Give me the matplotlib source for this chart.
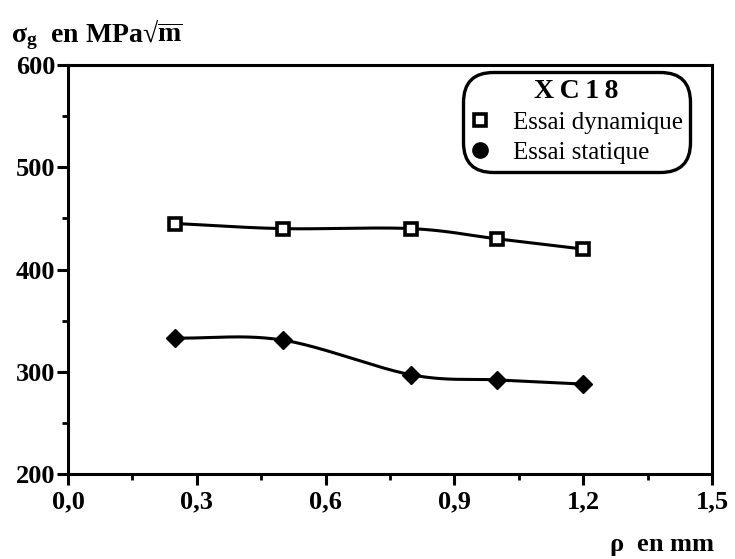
import matplotlib
matplotlib.use("Agg")
import matplotlib.pyplot as plt
import numpy as np
from matplotlib.lines import Line2D
from matplotlib.ticker import MultipleLocator, FuncFormatter

plt.rcParams['font.family'] = ['Liberation Serif', 'DejaVu Serif']
plt.rcParams['mathtext.fontset'] = 'custom'
plt.rcParams['mathtext.rm'] = 'Liberation Serif'
plt.rcParams['mathtext.it'] = 'Liberation Serif:bold'
plt.rcParams['mathtext.bf'] = 'Liberation Serif:bold'

#--- Data ---#
rho = [0.25, 0.5, 0.8, 1.0, 1.2]
sig_dyn = [445, 440, 440, 430, 420]
sig_stat = [333, 331, 297, 292, 288]

# Smooth curve through the points (Catmull-Rom), like the original plotting software
def smooth(x, y, n=40):
    x = np.asarray(x, float)
    y = np.asarray(y, float)
    px = np.concatenate([[2*x[0]-x[1]], x, [2*x[-1]-x[-2]]])
    py = np.concatenate([[2*y[0]-y[1]], y, [2*y[-1]-y[-2]]])
    t = np.linspace(0, 1, n)
    xs, ys = [], []
    for i in range(1, len(px)-2):
        for p, out in ((px, xs), (py, ys)):
            p0, p1, p2, p3 = p[i-1], p[i], p[i+1], p[i+2]
            out.extend(0.5*((2*p1) + (-p0+p2)*t + (2*p0-5*p1+4*p2-p3)*t**2
                            + (-p0+3*p1-3*p2+p3)*t**3))
    return np.array(xs), np.array(ys)

fig = plt.figure(figsize=(7.35, 5.59), dpi=100)
ax = fig.add_axes([0.0925, 0.152, 0.8762, 0.7317])

xd, yd = smooth(rho, sig_dyn)
xs, ys = smooth(rho, sig_stat)
ax.plot(xd, yd, color='black', lw=2.2, zorder=2)
ax.plot(xs, ys, color='black', lw=2.2, zorder=2)
ax.plot(rho, sig_dyn, ls='none', marker='s', ms=9, mfc='white', mec='black', mew=2.6, zorder=3)
ax.plot(rho, sig_stat, ls='none', marker='D', ms=9, mfc='black', mec='black', zorder=3)

ax.set_xlim(0, 1.5)
ax.set_ylim(200, 600)
ax.xaxis.set_major_locator(MultipleLocator(0.3))
ax.xaxis.set_minor_locator(MultipleLocator(0.15))
ax.yaxis.set_major_locator(MultipleLocator(100))
ax.yaxis.set_minor_locator(MultipleLocator(50))
ax.xaxis.set_major_formatter(FuncFormatter(lambda v, p: '{:.1f}'.format(v).replace('.', ',')))
ax.tick_params(which='major', direction='out', length=8, width=2.2, labelsize=19, pad=4)
ax.tick_params(which='minor', direction='out', length=4, width=2)
ax.tick_params(axis='y', pad=1)
for lab in ax.get_xticklabels() + ax.get_yticklabels():
    lab.set_fontweight('bold')
for s in ax.spines.values():
    s.set_linewidth(2.2)

fig.text(0.015, 0.925, '$\\mathbf{\\sigma}_\\mathbf{g}$  en MPa$\u221a\\overline{m}$', fontsize=20,
         fontweight='bold', ha='left', va='baseline')
fig.text(0.972, 0.014, r'$\mathbf{\rho}$  en mm', fontsize=19, fontweight='bold', ha='right', va='baseline')

handles = [Line2D([], [], ls='none', marker='s', ms=8, mfc='white', mec='black', mew=2.6),
           Line2D([], [], ls='none', marker='o', ms=11, mfc='black', mec='black')]
leg = ax.legend(handles, ['Essai dynamique', 'Essai statique'], title='X\u2009C\u20091\u20098',
                loc='upper right', bbox_to_anchor=(0.962, 0.978), fontsize=18,
                frameon=True, fancybox=True, edgecolor='black', framealpha=1,
                handletextpad=0.9, borderpad=0.2, borderaxespad=0.0, labelspacing=0.3,
                handlelength=0.8)
leg.get_title().set_fontweight('bold')
leg.get_title().set_fontsize(20)
leg.get_frame().set_linewidth(2.4)
leg.get_frame().set_boxstyle('round,pad=0.1,rounding_size=1.2')

fig.savefig('out.png', dpi=100)
